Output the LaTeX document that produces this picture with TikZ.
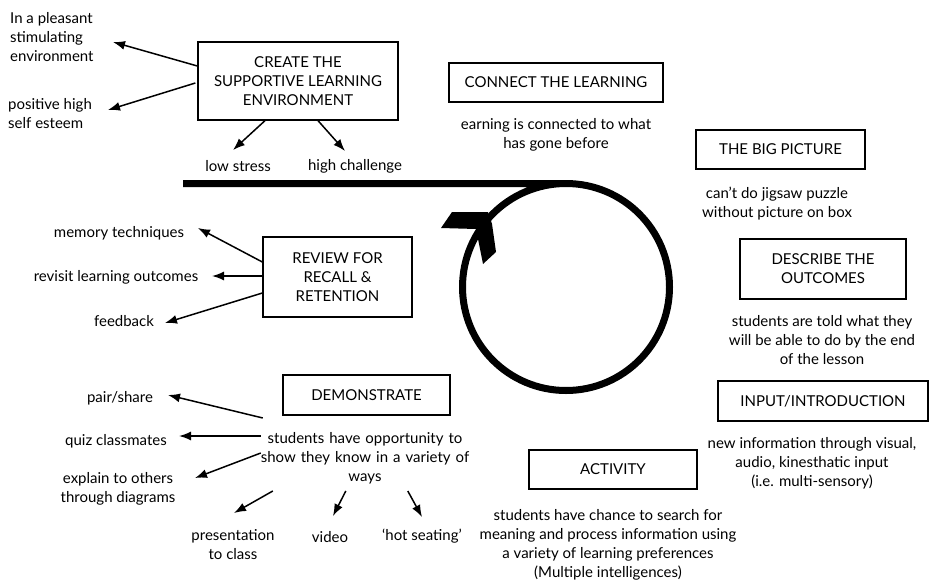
\documentclass[tikz,border=0pt]{standalone}
\usepackage{fontspec}
\setmainfont{Lato}
\usepackage{tikz}
\usetikzlibrary{arrows.meta}

\begin{document}
\begin{tikzpicture}[x=1pt,
            y=-1pt,
            >={Latex[length=12pt,width=9pt]},
            font=\fontsize{15}{19}\selectfont,
            box/.style={draw, line width=1.3pt, inner sep=0pt, align=center},
            lbl/.style={inner sep=0pt, align=center},
            arr/.style={->, line width=1.5pt},
            cycle/.style={line width=7pt}]

        \path[use as bounding box] (0,0) rectangle (931,581);

        % the learning cycle
        \draw[cycle] (183,183.5) -- (566,183.5)
                     (566,287) circle[radius=103.5];
        \fill (488,212) -- (452,212) -- (441,228) -- (476,229)
              -- (483,264) -- (496,252) -- (492,224) -- cycle;

        % stages
        \node[box, minimum width=200, minimum height=78] (create)   at (298,81)
              {CREATE THE\\SUPPORTIVE LEARNING\\ENVIRONMENT};
        \node[box, minimum width=214, minimum height=39] (connect)  at (556,82.5)
              {CONNECT THE LEARNING};
        \node[box, minimum width=169, minimum height=39] (bigpic)   at (780.5,149.5)
              {THE BIG PICTURE};
        \node[box, minimum width=166, minimum height=60] (describe) at (823,269)
              {DESCRIBE THE\\OUTCOMES};
        \node[box, minimum width=210, minimum height=40] (input)    at (823,401)
              {INPUT/INTRODUCTION};
        \node[box, minimum width=168, minimum height=39] (activity) at (613,469.5)
              {ACTIVITY};
        \node[box, minimum width=149, minimum height=80] (review)   at (337.5,277)
              {REVIEW FOR\\RECALL \&\\RETENTION};
        \node[box, minimum width=167, minimum height=40] (demo)     at (366.5,395)
              {DEMONSTRATE};

        % notes under the stages
        \node[lbl] (connectnote)  at (556,134.5) {earning is connected to what\\has gone before};
        \node[lbl] (bigpicnote)   at (777,203.5) {can’t do jigsaw puzzle\\without picture on box};
        \node[lbl] (describenote) at (822,340)   {students are told what they\\will be able to do by the end\\of the lesson};
        \node[lbl] (inputnote)    at (812,463.5) {new information through visual,\\audio, kinesthatic input\\(i.e. multi-sensory)};
        \node[lbl] (activitynote) at (608,545)   {students have chance to search for\\meaning and process information using\\a variety of learning preferences\\(Multiple intelligences)};
        \node[lbl, text width=220] (show) at (365,458)
              {students have opportunity to\\show they know in a variety of\\ways};

        % around the supportive environment
        \node[lbl, align=left, anchor=west] (pleasant) at (10,37)  {In a pleasant\\stimulating\\environment};
        \node[lbl, align=left, anchor=west] (esteem)   at (8,114)  {positive high\\self esteem};
        \node[lbl] (lowstress) at (238,166) {low stress};
        \node[lbl] (challenge) at (355,166) {high challenge};

        \coordinate (pleasant-tip)  at (113,42);
        \coordinate (esteem-tip)    at (108,110);
        \coordinate (lowstress-tip) at (233,150);
        \coordinate (challenge-tip) at (345,151);

        \draw[arr] ([shift={(0,-15)}]create.west) -- (pleasant-tip);
        \draw[arr] ([shift={(-2,2)}]create.west)  -- (esteem-tip);
        \draw[arr] ([shift={(-33,0)}]create.south) -- (lowstress-tip);
        \draw[arr] ([shift={(20,0)}]create.south)  -- (challenge-tip);

        % around the review
        \node[lbl] (memory)   at (119,233) {memory techniques};
        \node[lbl] (revisit)  at (116,277) {revisit learning outcomes};
        \node[lbl] (feedback) at (124,321) {feedback};

        \coordinate (memory-tip)   at (198,228);
        \coordinate (revisit-tip)  at (212,276);
        \coordinate (feedback-tip) at (165,323);

        \draw[arr] ([shift={(0,-15)}]review.west) -- (memory-tip);
        \draw[arr] ([shift={(0,-1)}]review.west)  -- (revisit-tip);
        \draw[arr] ([shift={(0,16)}]review.west)  -- (feedback-tip);

        % ways to demonstrate
        \node[lbl] (pair)    at (120,398) {pair/share};
        \node[lbl] (quiz)    at (116,441) {quiz classmates};
        \node[lbl] (explain) at (118,489) {explain to others\\through diagrams};
        \node[lbl] (present) at (233,545) {presentation\\to class};
        \node[lbl] (video)   at (330,537) {video};
        \node[lbl] (hot)     at (422,536) {‘hot seating’};

        \coordinate (pair-tip)    at (168,395);
        \coordinate (quiz-tip)    at (179,436);
        \coordinate (explain-tip) at (195,478);
        \coordinate (present-tip) at (234,513);
        \coordinate (video-tip)   at (333,516);
        \coordinate (hot-tip)     at (422,517);

        \draw[arr] ([shift={(8,-40)}]show.west)  -- (pair-tip);
        \draw[arr] ([shift={(6,-22)}]show.west)  -- (quiz-tip);
        \draw[arr] ([shift={(6,-5)}]show.west)   -- (explain-tip);
        \draw[arr] ([shift={(18,33)}]show.west)  -- (present-tip);
        \draw[arr] ([shift={(91,33)}]show.west)  -- (video-tip);
        \draw[arr] ([shift={(153,33)}]show.west) -- (hot-tip);

    \end{tikzpicture}
\end{document}
